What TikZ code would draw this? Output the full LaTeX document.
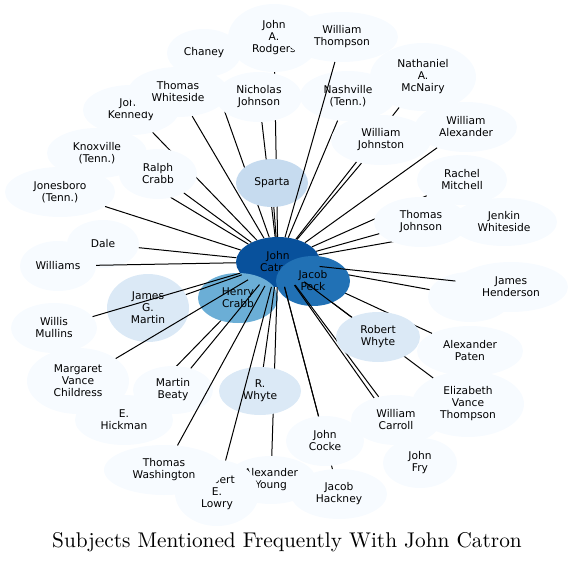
\documentclass[tikz,border=0pt]{standalone}
\usepackage{fontspec}
\usetikzlibrary{shapes.geometric}
\newfontfamily\labelfont{DejaVu Sans}
\newfontfamily\titlefont{lmroman10-regular.otf}
\definecolor{pale}{HTML}{F7FBFF}
\definecolor{mist}{HTML}{DBE9F6}
\definecolor{sky}{HTML}{C6DBEF}
\definecolor{mid}{HTML}{6BAED6}
\definecolor{deep}{HTML}{2171B5}
\definecolor{navy}{HTML}{08519C}
\tikzset{subj/.style={ellipse, fill=pale, inner sep=0pt, align=center, font=\labelfont\fontsize{10.67}{12}\selectfont, minimum width=96pt, minimum height=50pt},
  oval/.style 2 args={minimum width=#1pt, minimum height=#2pt},
  link/.style={line width=1pt}}

\begin{document}
\begin{tikzpicture}[x=1pt, y=-1pt]
\useasboundingbox (0,0) rectangle (574,563);

\node[subj, fill=navy, oval={84}{50}] (catron) at (278,262) {John\\Catron};

\node[subj, oval={74}{48}] (chaney) at (204,53) {Chaney}; \draw[link] (catron) -- (chaney);
\node[subj, oval={92}{68}] (rodgers) at (274,38) {John\\A.\\Rodgers}; \draw[link] (catron) -- (rodgers);
\node[subj] (kennedy) at (131,110) {John\\Kennedy}; \draw[link] (catron) -- (kennedy);
\node[subj, oval={100}{50}] (knoxville) at (97,153) {Knoxville\\(Tenn.)}; \draw[link] (catron) -- (knoxville);
\node[subj, oval={110}{50}] (jonesboro) at (60,192) {Jonesboro\\(Tenn.)}; \draw[link] (catron) -- (jonesboro);
\node[subj, oval={106}{68}] (mcnairy) at (423,77) {Nathaniel\\A.\\McNairy}; \draw[link] (catron) -- (mcnairy);
\node[subj, oval={90}{50}] (mitchell) at (462,180) {Rachel\\Mitchell}; \draw[link] (catron) -- (mitchell);
\node[subj, oval={106}{48}] (jwhiteside) at (504,222) {Jenkin\\Whiteside}; \draw[link] (catron) -- (jwhiteside);
\node[subj, oval={84}{50}] (hidden) at (470,297) {}; \draw[link] (catron) -- (hidden);
\node[subj, oval={106}{50}] (paten) at (470,351) {Alexander\\Paten}; \draw[link] (catron) -- (paten);
\node[subj, oval={112}{66}] (evthompson) at (468,404) {Elizabeth\\Vance\\Thompson}; \draw[link] (catron) -- (evthompson);
\node[subj, oval={98}{50}] (hickman) at (124,420) {E.\\Hickman}; \draw[link] (catron) -- (hickman);
\node[subj, fill=mid, oval={80}{50}] (hcrabb) at (238,298) {Henry\\Crabb};
\node[subj, fill=deep, oval={74}{50}] (peck) at (313,281) {Jacob\\Peck};
\node[subj, oval={90}{48}] (ayoung) at (271,480) {Alexander\\Young}; \draw[link] (catron) -- (ayoung);
\node[subj] (hackney) at (339,494) {Jacob\\Hackney}; \draw[link] (catron) -- (hackney);
\node[subj, oval={86}{50}] (njohnson) at (259,97) {Nicholas\\Johnson}; \draw[link] (catron) -- (njohnson);
\node[subj, oval={100}{50}] (twhiteside) at (178,92) {Thomas\\Whiteside}; \draw[link] (catron) -- (twhiteside);
\node[subj, oval={78}{50}] (ralph) at (158,174) {Ralph\\Crabb}; \draw[link] (catron) -- (ralph);
\node[subj, fill=sky, oval={72}{48}] (sparta) at (272,183) {Sparta}; \draw[link] (catron) -- (sparta);
\node[subj] (nashville) at (348,96) {Nashville\\(Tenn.)}; \draw[link] (catron) -- (nashville);
\node[subj, oval={112}{50}] (wthompson) at (342,37) {William\\Thompson}; \draw[link] (catron) -- (wthompson);
\node[subj, oval={100}{50}] (wjohnston) at (381,140) {William\\Johnston}; \draw[link] (catron) -- (wjohnston);
\node[subj, oval={102}{50}] (walexander) at (466,127) {William\\Alexander}; \draw[link] (catron) -- (walexander);
\node[subj, oval={94}{50}] (tjohnson) at (421,222) {Thomas\\Johnson}; \draw[link] (catron) -- (tjohnson);
\node[subj, oval={114}{50}] (henderson) at (511,287) {James\\Henderson}; \draw[link] (catron) -- (henderson);
\node[subj, oval={74}{50}] (fry) at (420,463) {John\\Fry}; \draw[link] (catron) -- (fry);
\node[subj, oval={90}{50}] (carroll) at (396,420) {William\\Carroll}; \draw[link] (catron) -- (carroll);
\node[subj, fill=mist, oval={84}{50}] (rwhyte) at (378,337) {Robert\\Whyte}; \draw[link] (catron) -- (rwhyte);
\node[subj, oval={78}{50}] (cocke) at (325,441) {John\\Cocke}; \draw[link] (catron) -- (cocke);
\node[subj, fill=mist, oval={82}{48}] (rwhyteb) at (260,391) {R.\\Whyte}; \draw[link] (catron) -- (rwhyteb);
\node[subj, oval={84}{66}] (lowry) at (217,493) {Robert\\E.\\Lowry}; \draw[link] (catron) -- (lowry);
\node[subj, oval={80}{48}] (beaty) at (173,390) {Martin\\Beaty}; \draw[link] (catron) -- (beaty);
\node[subj, oval={120}{50}] (washington) at (164,470) {Thomas\\Washington}; \draw[link] (catron) -- (washington);
\node[subj, fill=mist, oval={82}{68}] (jgmartin) at (148,308) {James\\G.\\Martin}; \draw[link] (catron) -- (jgmartin);
\node[subj, oval={102}{66}] (childress) at (78,381) {Margaret\\Vance\\Childress}; \draw[link] (catron) -- (childress);
\node[subj, oval={86}{50}] (mullins) at (54,328) {Willis\\Mullins}; \draw[link] (catron) -- (mullins);
\node[subj, oval={72}{48}] (dale) at (103,244) {Dale}; \draw[link] (catron) -- (dale);
\node[subj, oval={76}{50}] (williams) at (58,266) {Williams}; \draw[link] (catron) -- (williams);

\node[anchor=base, font=\titlefont\fontsize{21.3}{24}\selectfont] (title) at (287,547) {Subjects Mentioned Frequently With John Catron};

\end{tikzpicture}
\end{document}
